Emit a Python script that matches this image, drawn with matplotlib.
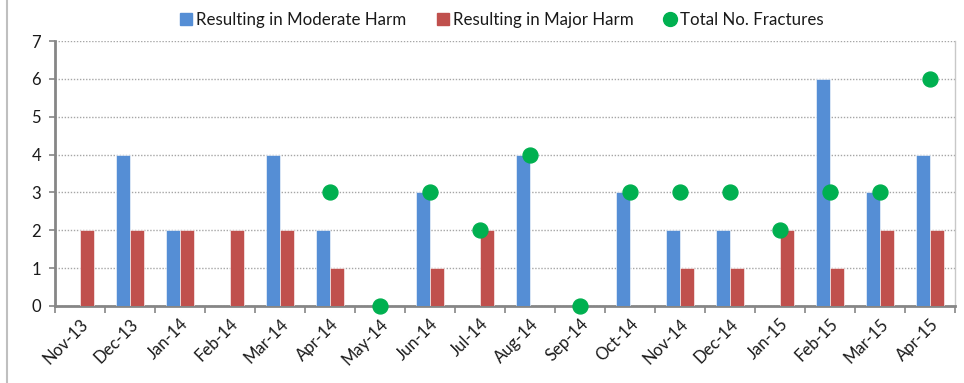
import matplotlib.pyplot as plt
import numpy as np
from matplotlib.lines import Line2D

months = ['Nov-13', 'Dec-13', 'Jan-14', 'Feb-14', 'Mar-14', 'Apr-14', 'May-14', 'Jun-14', 'Jul-14',
          'Aug-14', 'Sep-14', 'Oct-14', 'Nov-14', 'Dec-14', 'Jan-15', 'Feb-15', 'Mar-15', 'Apr-15']
moderate = [0, 4, 2, 0, 4, 2, 0, 3, 0, 4, 0, 3, 2, 2, 0, 6, 3, 4]
major = [2, 2, 2, 2, 2, 1, 0, 1, 2, 0, 0, 0, 1, 1, 2, 1, 2, 2]
# fractures only recorded from Apr-14 onwards
total = [None, None, None, None, None, 3, 0, 3, 2, 4, 0, 3, 3, 3, 2, 3, 3, 6]

plt.rcParams['font.family'] = ['Lato', 'DejaVu Sans']
plt.rcParams['text.color'] = '#1a1a1a'
plt.rcParams['xtick.labelcolor'] = '#1a1a1a'
plt.rcParams['ytick.labelcolor'] = '#1a1a1a'
blue = '#558ED5'
red = '#C0504D'
green = '#00B050'
grey = '#868686'

fig = plt.figure(figsize=(9.64, 3.83), dpi=100)
ax = fig.add_axes([55 / 964, 1 - 306 / 383, 900 / 964, 265 / 383])

x = np.arange(len(months))
w = 0.28
ax.bar(x - w / 2, moderate, w, color=blue, edgecolor='white', linewidth=0.4, zorder=3)
ax.bar(x + w / 2, major, w, color=red, edgecolor='white', linewidth=0.4, zorder=3)
tx = [i for i, t in zip(x, total) if t is not None]
ty = [t for t in total if t is not None]
ax.scatter(tx, ty, s=115, color=green, zorder=5, clip_on=False)

ax.set_xlim(-0.5, len(months) - 0.5)
ax.set_ylim(0, 7)
ax.set_yticks(range(0, 8))
ax.yaxis.grid(True, linestyle=(0, (1, 1.2)), color='#A6A6A6', linewidth=1.0, zorder=0)
ax.set_xticks(x)
ax.set_xticklabels(months, rotation=45, ha='right', rotation_mode='anchor', fontsize=12)
ax.set_xticks(np.arange(-0.5, len(months)), minor=True)
ax.tick_params(axis='x', which='major', length=0, pad=7)
ax.tick_params(axis='x', which='minor', length=5, color=grey, width=1.2)
ax.tick_params(axis='y', length=4, color=grey, width=1.2, labelsize=12, pad=6)
for s in ['left', 'bottom']:
    ax.spines[s].set_color(grey)
    ax.spines[s].set_linewidth(2)
ax.spines['right'].set_color('#C8C8C8')
ax.spines['right'].set_linewidth(1)
ax.spines['top'].set_visible(False)

handles = [
    Line2D([], [], marker='s', linestyle='', color=blue, markersize=9),
    Line2D([], [], marker='s', linestyle='', color=red, markersize=9),
    Line2D([], [], marker='o', linestyle='', color=green, markersize=10),
]
labels = ['Resulting in Moderate Harm', 'Resulting in Major Harm', 'Total No. Fractures']
fig.legend(handles, labels, loc='center', bbox_to_anchor=(501 / 964, 1 - 20 / 383), ncol=3,
           frameon=False, fontsize=12.2, handletextpad=0.15, columnspacing=1.7, handlelength=0.9)

# outer chart border on the left
fig.add_artist(Line2D([6.5 / 964, 6.5 / 964], [0, 1], color='#BFBFBF', linewidth=1.5))

fig.savefig('out.png', dpi=100)
